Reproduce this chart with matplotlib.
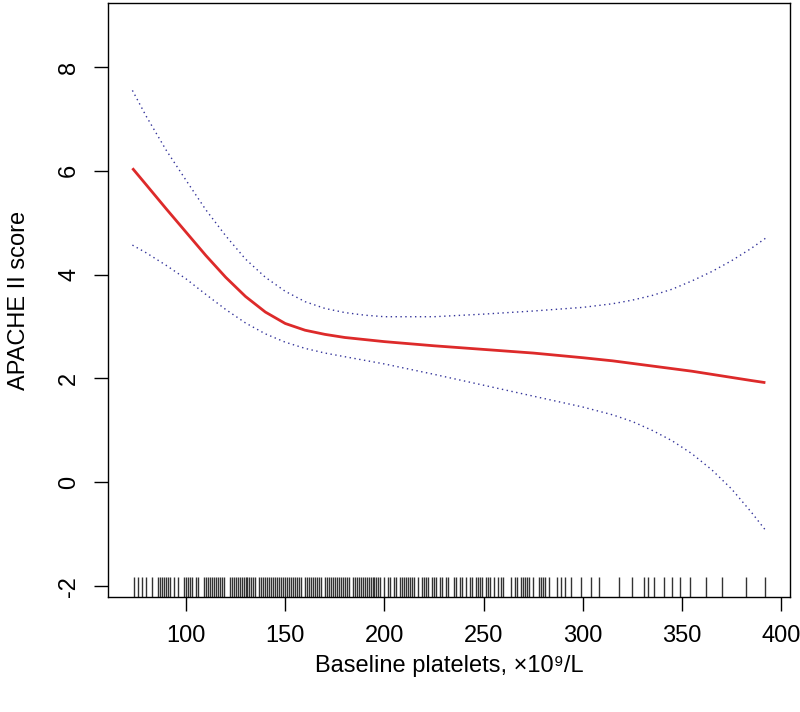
import matplotlib
matplotlib.use("Agg")
import matplotlib.pyplot as plt

plt.rcParams['font.family'] = ['Liberation Sans', 'DejaVu Sans']

# Fitted curve (red) and 95% CI (dotted)
fit_x = [73, 80, 90, 100, 110, 120, 130, 140, 150, 160, 170, 180, 190, 200, 225, 250, 275,
         300, 315, 325, 335, 345, 355, 365, 375, 385, 392]
fit_y = [6.05, 5.73, 5.27, 4.82, 4.37, 3.95, 3.58, 3.28, 3.06, 2.93, 2.85, 2.79, 2.75, 2.71,
         2.63, 2.56, 2.49, 2.40, 2.34, 2.29, 2.24, 2.19, 2.14, 2.08, 2.02, 1.96, 1.92]
upper_y = [7.55, 7.05, 6.40, 5.82, 5.25, 4.75, 4.30, 3.95, 3.68, 3.48, 3.35, 3.27, 3.22, 3.19,
           3.19, 3.24, 3.30, 3.37, 3.44, 3.51, 3.60, 3.72, 3.88, 4.06, 4.27, 4.51, 4.70]
lower_y = [4.57, 4.42, 4.18, 3.92, 3.62, 3.33, 3.07, 2.86, 2.70, 2.58, 2.49, 2.42, 2.35, 2.28,
           2.08, 1.87, 1.66, 1.45, 1.30, 1.17, 1.00, 0.80, 0.55, 0.24, -0.13, -0.58, -0.92]

# Rug: observed baseline platelet values
rug_x = [74, 76, 78, 80, 83, 86, 87, 88, 89, 90, 91, 92, 94, 96,
         99, 100, 101, 102, 103, 105, 106,
         109, 110, 111, 112, 113, 114, 115, 116, 117, 118, 119,
         122, 123, 124, 125, 126, 127, 128, 129, 130, 131, 132, 133, 134, 135,
         137, 138, 139, 140, 141, 142, 143, 144, 145, 146, 147, 148, 149, 150,
         151, 152, 153, 154, 155, 156, 157, 158,
         160, 161, 162, 163, 164, 165, 166, 167, 168,
         170, 171, 172, 173, 174, 175, 176, 177, 178, 179, 180, 181, 182,
         184, 185, 186, 187, 188, 189, 190, 191, 192, 193, 194, 195, 196, 197, 198,
         200, 202, 203, 205, 206, 208, 209, 210, 211, 212, 213, 214, 215, 217,
         219, 220, 221, 222, 224, 225, 226, 228, 229, 231, 232, 235, 236, 238,
         239, 241, 243, 244, 246, 247, 248, 249, 251, 252, 253, 255, 257, 259,
         260, 264, 266, 267, 269, 270, 271, 272, 273, 275, 278, 279, 280, 281,
         283, 287, 289, 291, 294, 299, 304, 308, 318, 325, 331, 333, 336, 341,
         345, 349, 354, 362, 370, 382, 392]

x_ticks = [100, 150, 200, 250, 300, 350, 400]
y_ticks = [-2, 0, 2, 4, 6, 8]

fig = plt.figure(figsize=(8, 7.12), dpi=100)
ax = fig.add_axes([0.135, 0.1615, 0.8525, 0.834])

ax.plot(fit_x, fit_y, color='#dd2a2a', lw=2.0, solid_capstyle='butt')
ax.plot(fit_x, upper_y, color='#34349a', lw=1.0, linestyle=(0, (1, 2.5)))
ax.plot(fit_x, lower_y, color='#34349a', lw=1.0, linestyle=(0, (1, 2.5)))

ax.vlines(rug_x, 0, 0.033, transform=ax.get_xaxis_transform(), color='#333333', lw=1.0)

ax.set_xlim(60.7, 404.4)
ax.set_ylim(-2.21, 9.23)
ax.set_xticks(x_ticks)
ax.set_yticks(y_ticks)
ax.set_xticklabels([str(v) for v in x_ticks], fontsize=17)
ax.set_yticklabels([str(v) for v in y_ticks], fontsize=17, rotation=90, va='center')
ax.tick_params(axis='both', length=10, width=1, color='black')
ax.tick_params(axis='x', pad=10)
ax.tick_params(axis='y', pad=10)
for s in ax.spines.values():
    s.set_linewidth(1.0)
    s.set_color('black')

ax.set_xlabel('Baseline platelets, ×10⁹/L', fontsize=17, labelpad=6)
ax.set_ylabel('APACHE II score', fontsize=17, labelpad=20)

fig.savefig('out.png', dpi=100, facecolor='white')
